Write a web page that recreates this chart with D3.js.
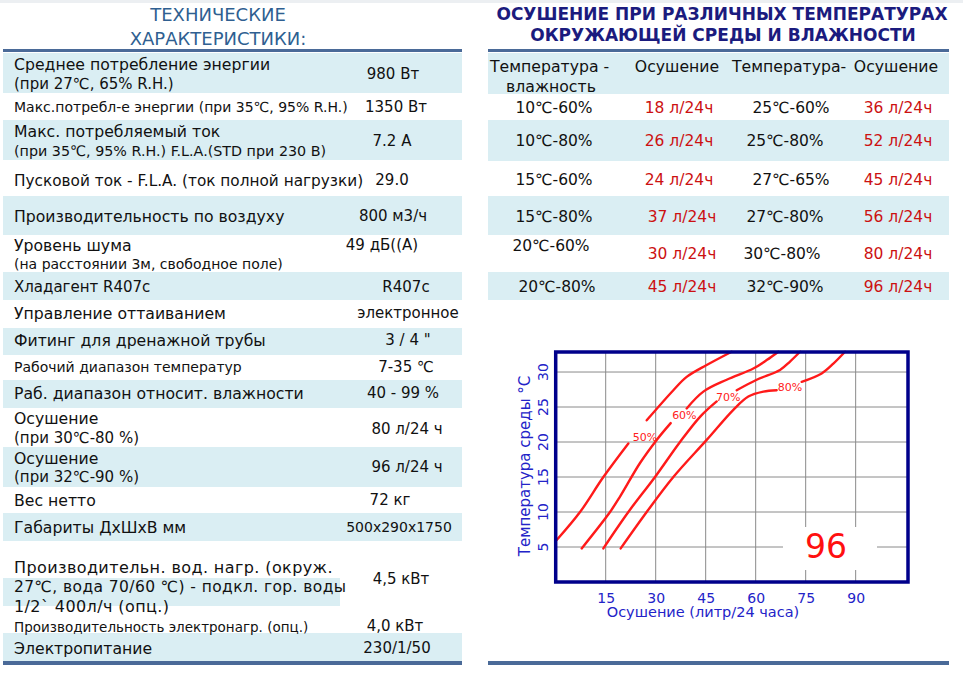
<!DOCTYPE html>
<html>
<head>
<meta charset="utf-8">
<script src="https://cdn.jsdelivr.net/npm/d3@7"></script>
<style>
  html, body { margin: 0; padding: 0; background: #fff; }
  svg { display: block; font-family: "DejaVu Sans", Verdana, sans-serif; }
</style>
</head>
<body>
<div id="page"></div>
<script>
// ---- данные: технические характеристики ----
const specLabels = [
  ["Среднее потребление энергии", "(при 27℃, 65% R.H.)"],
  ["Макс.потребл-е энергии (при 35℃, 95% R.H.)"],
  ["Макс. потребляемый ток", "(при 35℃, 95% R.H.) F.L.A.(STD при 230 В)"],
  ["Пусковой ток - F.L.A. (ток полной нагрузки)"],
  ["Производительность по воздуху"],
  ["Уровень шума", "(на расстоянии 3м, свободное поле)"],
  ["Хладагент R407c"],
  ["Управление оттаиванием"],
  ["Фитинг для дренажной трубы"],
  ["Рабочий диапазон температур"],
  ["Раб. диапазон относит. влажности"],
  ["Осушение", "(при 30℃-80 %)"],
  ["Осушение", "(при 32℃-90 %)"],
  ["Вес нетто"],
  ["Габариты ДхШхВ мм"],
  ["Производительн. вод. нагр. (окруж.", "27℃, вода 70/60 ℃) - подкл. гор. воды", "1/2`  400л/ч (опц.)"],
  ["Производительность электронагр. (опц.)"],
  ["Электропитание"]
];
const specValues = ["980 Вт", "1350 Вт", "7.2 A", "29.0", "800 м3/ч", "49 дБ((А)", "R407c",
  "электронное", "3 / 4 \"", "7-35 ℃", "40 - 99 %", "80 л/24 ч", "96 л/24 ч", "72 кг",
  "500x290x1750", "4,5 кВт", "4,0 кВт", "230/1/50"];

// ---- данные: осушение при разных условиях ----
const condLeft  = ["10℃-60%", "10℃-80%", "15℃-60%", "15℃-80%", "20℃-60%", "20℃-80%"];
const rateLeft  = ["18 л/24ч", "26 л/24ч", "24 л/24ч", "37 л/24ч", "30 л/24ч", "45 л/24ч"];
const condRight = ["25℃-60%", "25℃-80%", "27℃-65%", "27℃-80%", "30℃-80%", "32℃-90%"];
const rateRight = ["36 л/24ч", "52 л/24ч", "45 л/24ч", "56 л/24ч", "80 л/24ч", "96 л/24ч"];

// ---- данные графика: кривые влажности (осушение л/24ч, температура °C) ----
const humLabels = ["50%", "60%", "70%", "80%"];
const curve50 = [
  [[0.3, 6.0], [7.3, 10.0], [14.3, 15.0], [21.8, 19.8]],
  [[27.3, 23.1], [35.3, 27.4], [39.3, 29.3], [45.3, 31.0], [52.8, 32.9]]
];
const curve60 = [
  [[7.8, 4.8], [16.3, 10.0], [19.3, 12.2], [25.3, 17.0], [30.3, 20.3], [34.5, 22.7]],
  [[39.3, 24.8], [44.3, 27.2], [51.3, 28.9], [59.3, 30.5], [63.3, 31.7], [66.8, 32.9]]
];
const curve70 = [
  [[14.3, 4.8], [21.8, 10.0], [29.8, 15.0], [37.3, 20.0], [43.3, 23.6], [48.3, 25.8]],
  [[54.3, 27.4], [60.3, 28.9], [67.3, 30.3], [70.3, 31.5], [73.3, 32.9]]
];
const curve80 = [
  [[19.5, 4.8], [27.3, 10.0], [35.3, 15.0], [45.3, 20.3], [53.3, 24.6], [57.8, 26.5], [62.3, 27.2], [66.3, 27.4]],
  [[73.8, 28.6], [79.8, 29.8], [83.3, 31.2], [86.8, 32.9]]
];
const humLabelAt = [[26.8, 20.7], [38.6, 23.9], [51.8, 26.4], [70.3, 27.9]];
const xTicks = [15, 30, 45, 60, 75, 90];
const yTicks = [5, 10, 15, 20, 25, 30];
const badge = "96";

// ---- разметка ----
const W = 963, H = 673;
const bandColor = "#daeef3";
const ruleColor = "#4a6a98";

const svg = d3.select("#page").append("svg").attr("width", W).attr("height", H);

svg.append("rect").attr("x", 0).attr("y", 0).attr("width", W).attr("height", 3).attr("fill", "#eceff2");

// ===== Левая таблица =====
const left = svg.append("g");
left.append("text").attr("x", 218).attr("y", 21).attr("text-anchor", "middle")
  .style("font-size", "18px").style("fill", "#2f5f91").text("ТЕХНИЧЕСКИЕ");
left.append("text").attr("x", 218).attr("y", 45).attr("text-anchor", "middle")
  .style("font-size", "18px").style("fill", "#2f5f91").text("ХАРАКТЕРИСТИКИ:");

// полосы фона: [y0, y1]
const specBands = [[53, 93], [120, 160], [196, 235], [272, 300], [328, 355], [380, 408],
  [447, 487], [513, 541], [633, 661]];
left.selectAll("rect.band").data(specBands).enter().append("rect")
  .attr("class", "band")
  .attr("x", 3).attr("width", 459)
  .attr("y", d => d[0]).attr("height", d => d[1] - d[0])
  .attr("fill", bandColor);
left.append("rect").attr("x", 3).attr("width", 337).attr("y", 578).attr("height", 28).attr("fill", bandColor);

left.append("rect").attr("x", 3).attr("y", 49).attr("width", 459).attr("height", 3).attr("fill", ruleColor);
left.append("rect").attr("x", 3).attr("y", 661).attr("width", 459).attr("height", 4).attr("fill", ruleColor);

const specTextY  = [64, 107, 131, 180, 216, 245, 287, 313, 340, 367, 393, 418, 458, 500, 527, 567, 627, 648];
const specValueY = [74, 107, 141, 180, 216, 245, 287, 313, 340, 367, 393, 429, 467, 500, 527, 579, 626, 648];
const specValueX = [393, 396, 392, 392, 393, 382, 406, 408, 408, 406, 403, 407, 407, 390, 399, 401, 395, 397];
const specSizes = [[15.7, 15], [14], [15.7, 14.3], [15.3], [15.7], [15.7, 14], [15], [15.7], [15.7], [14], [15.7],
  [15.7, 15], [15.7, 15], [15.7], [15.7], [16, 15.5, 16], [13.5], [15.7]];
const lineGap = [20, 0, 20, 0, 0, 19, 0, 0, 0, 0, 0, 20, 19, 0, 0, 19.5, 0, 0];

specLabels.forEach((lines, i) => {
  lines.forEach((t, j) => {
    left.append("text")
      .attr("x", 14)
      .attr("y", specTextY[i] + j * lineGap[i])
      .attr("dy", "0.36em")
      .style("font-size", specSizes[i][j] + "px")
      .style("letter-spacing", i === 15 ? "0.4px" : null)
      .style("fill", "#111")
      .text(t);
  });
  left.append("text")
    .attr("x", specValueX[i])
    .attr("y", specValueY[i])
    .attr("dy", "0.36em")
    .attr("text-anchor", "middle")
    .style("font-size", (i === 14 ? 14 : 15) + "px")
    .style("fill", "#111")
    .text(specValues[i]);
});

// ===== Правая таблица =====
const right = svg.append("g");
right.append("text").attr("x", 722).attr("y", 20).attr("text-anchor", "middle")
  .style("font-size", "17px").style("font-weight", "bold").style("fill", "#1b1b7e")
  .text("ОСУШЕНИЕ ПРИ РАЗЛИЧНЫХ ТЕМПЕРАТУРАХ");
right.append("text").attr("x", 723).attr("y", 41).attr("text-anchor", "middle")
  .style("font-size", "17px").style("font-weight", "bold").style("fill", "#1b1b7e")
  .text("ОКРУЖАЮЩЕЙ СРЕДЫ И ВЛАЖНОСТИ");

const humBands = [[53, 94], [120, 161], [196, 235], [272, 300]];
right.selectAll("rect.band").data(humBands).enter().append("rect")
  .attr("class", "band")
  .attr("x", 488).attr("width", 461)
  .attr("y", d => d[0]).attr("height", d => d[1] - d[0])
  .attr("fill", bandColor);
right.append("rect").attr("x", 488).attr("y", 49).attr("width", 461).attr("height", 3).attr("fill", ruleColor);
right.append("rect").attr("x", 488).attr("y", 661).attr("width", 461).attr("height", 4).attr("fill", ruleColor);

const hdr = right.append("g").style("font-size", "15.7px").style("fill", "#111");
hdr.append("text").attr("x", 490).attr("y", 66).attr("dy", "0.36em").text("Температура -");
hdr.append("text").attr("x", 506).attr("y", 86).attr("dy", "0.36em").text("влажность");
hdr.append("text").attr("x", 677).attr("y", 66).attr("dy", "0.36em").attr("text-anchor", "middle").text("Осушение");
hdr.append("text").attr("x", 732).attr("y", 66).attr("dy", "0.36em").text("Температура-");
hdr.append("text").attr("x", 896).attr("y", 66).attr("dy", "0.36em").attr("text-anchor", "middle").text("Осушение");

const humRowY = [107, 140, 179, 216, 253, 286];
const condLeftX = [554, 554, 554, 554, 551, 557];
const condLeftDy = [0, 0, 0, 0, -8, 0];
const condRightX = [791, 785, 791, 785, 782, 785];
const rateLeftX = [679, 679, 679, 682, 682, 682];

humRowY.forEach((y, i) => {
  const g = right.append("g").style("font-size", "15.5px");
  g.append("text").attr("x", condLeftX[i]).attr("y", y + condLeftDy[i]).attr("dy", "0.36em")
    .attr("text-anchor", "middle").style("fill", "#111").text(condLeft[i]);
  g.append("text").attr("x", rateLeftX[i]).attr("y", y).attr("dy", "0.36em")
    .attr("text-anchor", "middle").style("fill", "#cc1111").text(rateLeft[i]);
  g.append("text").attr("x", condRightX[i]).attr("y", y).attr("dy", "0.36em")
    .attr("text-anchor", "middle").style("fill", "#111").text(condRight[i]);
  g.append("text").attr("x", 898).attr("y", y).attr("dy", "0.36em")
    .attr("text-anchor", "middle").style("fill", "#cc1111").text(rateRight[i]);
});

// ===== График =====
const plot = { left: 555.7, right: 908, top: 352, bottom: 582 };
const x = d3.scaleLinear().domain([0, 105.7]).range([plot.left, plot.right]);
const y = d3.scaleLinear().domain([0, 32.86]).range([plot.bottom, plot.top]);
const chart = svg.append("g");
const axisBlue = "#2323c8";

chart.append("g").selectAll("line").data(xTicks).enter().append("line")
  .attr("x1", d => x(d)).attr("x2", d => x(d))
  .attr("y1", plot.top).attr("y2", plot.bottom)
  .attr("stroke", "#8a8a8a").attr("stroke-width", 1);
chart.append("g").selectAll("line").data(yTicks).enter().append("line")
  .attr("x1", plot.left).attr("x2", plot.right)
  .attr("y1", d => y(d)).attr("y2", d => y(d))
  .attr("stroke", "#8a8a8a").attr("stroke-width", 1);

// подложка для крупной цифры
chart.append("rect").attr("x", 783).attr("y", 527).attr("width", 94).attr("height", 43).attr("fill", "#fff");
chart.append("text").attr("x", 826).attr("y", 558).attr("text-anchor", "middle")
  .style("font-size", "33px").style("fill", "#ff1010").text(badge);

const line = d3.line().x(d => x(d[0])).y(d => y(d[1])).curve(d3.curveCatmullRom.alpha(0.5));
const curves = [curve50, curve60, curve70, curve80];
curves.forEach(c => {
  chart.selectAll(null).data(c).enter().append("path")
    .attr("d", line)
    .attr("fill", "none")
    .attr("stroke", "#ff1a1a")
    .attr("stroke-width", 2.4)
    .attr("stroke-linecap", "round");
});
chart.selectAll("text.hum").data(humLabels).enter().append("text")
  .attr("class", "hum")
  .attr("x", (d, i) => x(humLabelAt[i][0]))
  .attr("y", (d, i) => y(humLabelAt[i][1]))
  .attr("dy", "0.36em")
  .attr("text-anchor", "middle")
  .style("font-size", "11px")
  .style("fill", "#ff2020")
  .text(d => d);

chart.append("rect")
  .attr("x", plot.left).attr("y", plot.top)
  .attr("width", plot.right - plot.left).attr("height", plot.bottom - plot.top)
  .attr("fill", "none").attr("stroke", "#00008b").attr("stroke-width", 3.5);

// подписи осей
const xAxis = d3.axisBottom(x).tickValues(xTicks).tickSize(0).tickPadding(11);
chart.append("g").attr("transform", `translate(0,${plot.bottom})`).call(xAxis)
  .call(g => g.select(".domain").remove())
  .selectAll("text").style("font-size", "14px").style("fill", axisBlue)
  .style("font-family", "'DejaVu Sans', Verdana, sans-serif");

chart.selectAll("text.ytick").data(yTicks).enter().append("text")
  .attr("class", "ytick")
  .attr("transform", d => `translate(543,${y(d)}) rotate(-90)`)
  .attr("text-anchor", "middle")
  .attr("dy", "0.36em")
  .style("font-size", "14px")
  .style("fill", axisBlue)
  .text(d => d);

chart.append("text").attr("x", 703).attr("y", 617).attr("text-anchor", "middle")
  .style("font-size", "14.5px").style("fill", axisBlue).text("Осушение (литр/24 часа)");
chart.append("text").attr("transform", "translate(525,466) rotate(-90)").attr("text-anchor", "middle")
  .attr("dy", "0.36em")
  .style("font-size", "15px").style("fill", axisBlue).text("Температура среды °С");
</script>
</body>
</html>
